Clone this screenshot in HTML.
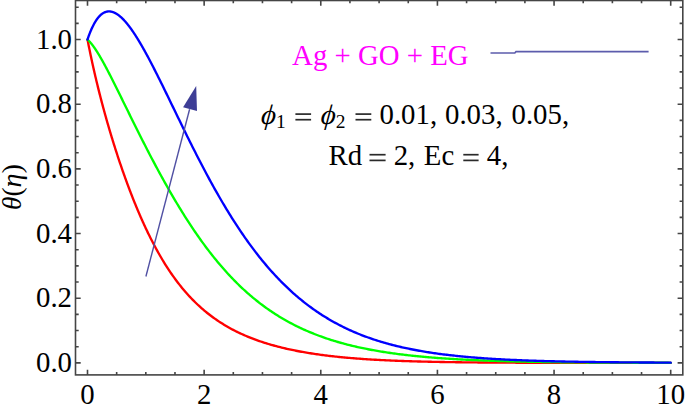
<!DOCTYPE html>
<html><head><meta charset="utf-8"><style>
html,body{margin:0;padding:0;background:#fff;width:685px;height:405px;overflow:hidden}
svg{display:block}
text{font-family:"Liberation Serif",serif;font-size:28.8px;fill:#000}
</style></head><body>
<svg width="685" height="405" viewBox="0 0 685 405">
<g fill="none" stroke-width="2.35" stroke-linejoin="round" stroke-linecap="round">
<path d="M87.50,39.55 L87.75,40.84 L88.00,42.12 L88.25,43.39 L88.50,44.65 L88.75,45.90 L89.00,47.15 L89.25,48.39 L89.50,49.62 L89.75,50.84 L90.00,52.05 L90.25,53.25 L90.50,54.45 L90.75,55.64 L91.00,56.82 L91.25,58.00 L91.50,59.17 L91.75,60.33 L92.00,61.48 L92.25,62.63 L92.50,63.77 L92.75,64.91 L93.00,66.03 L93.25,67.16 L93.50,68.27 L93.75,69.38 L94.00,70.48 L94.25,71.58 L94.50,72.67 L94.75,73.76 L95.00,74.83 L95.25,75.91 L95.50,76.98 L95.75,78.04 L96.00,79.10 L96.25,80.15 L96.50,81.19 L96.75,82.24 L97.00,83.27 L97.25,84.30 L97.50,85.33 L97.75,86.35 L98.00,87.37 L98.25,88.38 L98.50,89.39 L98.75,90.39 L99.00,91.39 L99.25,92.38 L99.50,93.37 L99.75,94.35 L100.00,95.33 L100.25,96.31 L100.50,97.28 L100.75,98.25 L101.00,99.21 L101.25,100.17 L101.50,101.12 L101.75,102.08 L102.00,103.02 L102.25,103.97 L102.50,104.91 L102.75,105.84 L103.00,106.77 L103.25,107.70 L103.50,108.63 L103.75,109.55 L104.00,110.46 L104.25,111.38 L104.50,112.29 L104.75,113.20 L105.00,114.10 L105.25,115.00 L105.50,115.90 L105.75,116.79 L106.00,117.68 L106.25,118.57 L106.50,119.45 L106.75,120.33 L107.00,121.21 L107.25,122.08 L107.50,122.95 L107.75,123.82 L108.00,124.68 L108.25,125.55 L108.50,126.40 L108.75,127.26 L109.00,128.11 L109.25,128.96 L109.50,129.81 L109.75,130.65 L110.00,131.50 L110.25,132.33 L110.50,133.17 L110.75,134.00 L111.00,134.83 L111.25,135.66 L111.50,136.48 L111.75,137.31 L112.00,138.13 L112.25,138.94 L112.50,139.76 L112.75,140.57 L113.00,141.38 L113.25,142.18 L113.50,142.99 L113.75,143.79 L114.00,144.59 L114.25,145.38 L114.50,146.17 L114.75,146.97 L115.00,147.75 L115.25,148.54 L115.50,149.32 L115.75,150.10 L116.00,150.88 L116.25,151.66 L116.50,152.43 L116.75,153.20 L117.00,153.97 L117.25,154.74 L117.50,155.50 L117.75,156.27 L118.00,157.02 L118.25,157.78 L118.50,158.54 L118.75,159.29 L119.00,160.04 L119.25,160.79 L119.50,161.53 L119.75,162.28 L120.00,163.02 L120.25,163.76 L120.50,164.49 L120.75,165.23 L121.00,165.96 L121.25,166.69 L121.50,167.42 L121.75,168.14 L122.00,168.86 L122.25,169.59 L122.50,170.30 L122.75,171.02 L123.00,171.74 L123.25,172.45 L123.50,173.16 L123.75,173.87 L124.00,174.57 L124.25,175.27 L124.50,175.98 L124.75,176.68 L125.00,177.37 L125.25,178.07 L125.50,178.76 L125.75,179.45 L126.00,180.14 L126.25,180.83 L126.50,181.51 L126.75,182.19 L127.00,182.87 L127.25,183.55 L127.50,184.23 L127.75,184.90 L128.00,185.57 L128.25,186.24 L128.50,186.91 L128.75,187.58 L129.00,188.24 L129.25,188.90 L129.50,189.56 L129.75,190.22 L130.00,190.88 L130.25,191.53 L130.50,192.18 L130.75,192.83 L131.00,193.48 L131.25,194.12 L131.50,194.77 L131.75,195.41 L132.00,196.05 L132.25,196.68 L132.50,197.32 L132.75,197.95 L133.00,198.58 L133.25,199.21 L133.50,199.84 L133.75,200.47 L134.00,201.09 L134.25,201.71 L134.50,202.33 L134.75,202.95 L135.00,203.56 L135.25,204.18 L135.50,204.79 L135.75,205.40 L136.00,206.00 L136.25,206.61 L136.50,207.21 L136.75,207.81 L137.00,208.41 L137.25,209.01 L137.50,209.61 L137.75,210.20 L138.00,210.79 L138.25,211.38 L138.50,211.97 L138.75,212.56 L139.00,213.14 L139.25,213.72 L139.50,214.30 L139.75,214.88 L140.00,215.46 L140.25,216.03 L140.50,216.61 L140.75,217.18 L141.00,217.75 L141.25,218.31 L141.50,218.88 L141.75,219.44 L142.00,220.00 L142.25,220.56 L142.50,221.12 L142.75,221.67 L143.00,222.23 L143.25,222.78 L143.50,223.33 L143.75,223.88 L144.00,224.42 L144.25,224.97 L144.50,225.51 L144.75,226.05 L145.00,226.59 L145.25,227.13 L145.50,227.66 L145.75,228.19 L146.00,228.73 L146.25,229.26 L146.50,229.78 L146.75,230.31 L147.00,230.83 L147.25,231.36 L147.50,231.88 L148.00,232.91 L149.31,235.59 L150.62,238.22 L151.93,240.80 L153.24,243.33 L154.55,245.81 L155.86,248.24 L157.17,250.63 L158.48,252.98 L159.79,255.27 L161.10,257.52 L162.41,259.73 L163.72,261.89 L165.03,264.01 L166.34,266.09 L167.65,268.12 L168.96,270.12 L170.27,272.07 L171.58,273.98 L172.89,275.85 L174.20,277.68 L175.51,279.48 L176.82,281.24 L178.13,282.96 L179.44,284.64 L180.75,286.29 L182.06,287.90 L183.37,289.48 L184.68,291.03 L185.99,292.54 L187.30,294.02 L188.61,295.47 L189.92,296.88 L191.23,298.27 L192.54,299.63 L193.85,300.95 L195.16,302.25 L196.47,303.52 L197.78,304.76 L199.09,305.98 L200.40,307.17 L201.71,308.33 L203.02,309.47 L204.33,310.58 L205.64,311.67 L206.95,312.74 L208.26,313.78 L209.57,314.80 L210.88,315.80 L212.19,316.78 L213.50,317.73 L214.81,318.67 L216.12,319.58 L217.43,320.48 L218.74,321.36 L220.05,322.21 L221.36,323.05 L222.67,323.87 L223.98,324.68 L225.29,325.46 L226.60,326.23 L227.91,326.99 L229.22,327.73 L230.53,328.45 L231.84,329.16 L233.15,329.85 L234.46,330.53 L235.77,331.19 L237.08,331.84 L238.39,332.47 L239.70,333.10 L241.01,333.71 L242.32,334.30 L243.63,334.89 L244.94,335.46 L246.25,336.02 L247.56,336.57 L248.87,337.11 L250.18,337.64 L251.49,338.16 L252.80,338.66 L254.11,339.16 L255.42,339.64 L256.73,340.12 L258.04,340.59 L259.35,341.04 L260.66,341.49 L261.97,341.93 L263.28,342.36 L264.59,342.78 L265.90,343.19 L267.21,343.60 L268.52,344.00 L269.83,344.38 L271.14,344.77 L272.45,345.14 L273.76,345.50 L275.07,345.86 L276.38,346.22 L277.69,346.56 L279.00,346.90 L280.31,347.23 L281.62,347.55 L282.93,347.87 L284.24,348.18 L285.55,348.49 L286.86,348.79 L288.17,349.08 L289.48,349.37 L290.79,349.65 L292.10,349.93 L293.41,350.20 L294.72,350.47 L296.03,350.73 L297.34,350.99 L298.65,351.24 L299.96,351.48 L301.27,351.72 L302.58,351.96 L303.89,352.19 L305.20,352.42 L306.51,352.64 L307.82,352.86 L309.13,353.07 L310.44,353.28 L311.75,353.49 L313.06,353.69 L314.37,353.89 L315.68,354.08 L316.99,354.27 L318.30,354.46 L319.61,354.64 L320.92,354.82 L322.23,354.99 L323.54,355.16 L324.85,355.33 L326.16,355.50 L327.47,355.66 L328.78,355.82 L330.09,355.97 L331.40,356.12 L332.71,356.27 L334.02,356.42 L335.33,356.56 L336.64,356.70 L337.95,356.84 L339.26,356.97 L340.57,357.10 L341.88,357.23 L343.19,357.36 L344.50,357.48 L345.81,357.60 L347.12,357.72 L348.43,357.84 L349.74,357.95 L351.05,358.06 L352.36,358.17 L353.67,358.28 L354.98,358.38 L356.29,358.49 L357.60,358.59 L358.91,358.69 L360.22,358.78 L361.53,358.88 L362.84,358.97 L364.15,359.06 L365.46,359.15 L366.77,359.23 L368.08,359.32 L369.39,359.40 L370.70,359.48 L372.01,359.56 L373.32,359.64 L374.63,359.71 L375.94,359.79 L377.25,359.86 L378.56,359.93 L379.87,360.00 L381.18,360.07 L382.49,360.14 L383.80,360.20 L385.11,360.27 L386.42,360.33 L387.73,360.39 L389.04,360.45 L390.35,360.51 L391.66,360.56 L392.97,360.62 L394.28,360.67 L395.59,360.73 L396.90,360.78 L398.21,360.83 L399.52,360.88 L400.83,360.93 L402.14,360.98 L403.45,361.02 L404.76,361.07 L406.07,361.11 L407.38,361.16 L408.69,361.20 L410.01,361.24 L411.32,361.28 L412.63,361.32 L413.94,361.36 L415.25,361.40 L416.56,361.44 L417.87,361.47 L419.18,361.51 L420.49,361.54 L421.80,361.57 L423.11,361.61 L424.42,361.64 L425.73,361.67 L427.04,361.70 L428.35,361.73 L429.66,361.76 L430.97,361.79 L432.28,361.82 L433.59,361.84 L434.90,361.87 L436.21,361.90 L437.52,361.92 L438.83,361.95 L440.14,361.97 L441.45,362.00 L442.76,362.02 L444.07,362.04 L445.38,362.06 L446.69,362.08 L448.00,362.10 L449.31,362.13 L450.62,362.15 L451.93,362.16 L453.24,362.18 L454.55,362.20 L455.86,362.22 L457.17,362.24 L458.48,362.25 L459.79,362.27 L461.10,362.29 L462.41,362.30 L463.72,362.32 L465.03,362.33 L466.34,362.35 L467.65,362.36 L468.96,362.38 L470.27,362.39 L471.58,362.40 L472.89,362.42 L474.20,362.43 L475.51,362.44 L476.82,362.45 L478.13,362.47 L479.44,362.48 L480.75,362.49 L482.06,362.50 L483.37,362.51 L484.68,362.52 L485.99,362.53 L487.30,362.54 L488.61,362.55 L489.92,362.56 L491.23,362.57 L492.54,362.58 L493.85,362.59 L495.16,362.59 L496.47,362.60 L497.78,362.61 L499.09,362.62 L500.40,362.63 L501.71,362.63 L503.02,362.64 L504.33,362.65 L505.64,362.65 L506.95,362.66 L508.26,362.67 L509.57,362.67 L510.88,362.68 L512.19,362.69 L513.50,362.69 L514.81,362.70 L516.12,362.70 L517.43,362.71 L518.74,362.71 L520.05,362.72 L521.36,362.72 L522.67,362.73 L523.98,362.73 L525.29,362.74 L526.60,362.74 L527.91,362.75 L529.22,362.75 L530.53,362.76 L531.84,362.76 L533.15,362.76 L534.46,362.77 L535.77,362.77 L537.08,362.77 L538.39,362.78 L539.70,362.78 L541.01,362.78 L542.32,362.79 L543.63,362.79 L544.94,362.79 L546.25,362.80 L547.56,362.80 L548.87,362.80 L550.18,362.81 L551.49,362.81 L552.80,362.81 L554.11,362.81 L555.42,362.82 L556.73,362.82 L558.04,362.82 L559.35,362.82 L560.66,362.82 L561.97,362.83 L563.28,362.83 L564.59,362.83 L565.90,362.83 L567.21,362.83 L568.52,362.84 L569.83,362.84 L571.14,362.84 L572.45,362.84 L573.76,362.84 L575.07,362.85 L576.38,362.85 L577.69,362.85 L579.00,362.85 L580.31,362.85 L581.62,362.85 L582.93,362.85 L584.24,362.86 L585.55,362.86 L586.86,362.86 L588.17,362.86 L589.48,362.86 L590.79,362.86 L592.10,362.86 L593.41,362.86 L594.72,362.86 L596.03,362.87 L597.34,362.87 L598.65,362.87 L599.96,362.87 L601.27,362.87 L602.58,362.87 L603.89,362.87 L605.20,362.87 L606.51,362.87 L607.82,362.87 L609.13,362.87 L610.44,362.88 L611.75,362.88 L613.06,362.88 L614.37,362.88 L615.68,362.88 L616.99,362.88 L618.30,362.88 L619.61,362.88 L620.92,362.88 L622.23,362.88 L623.54,362.88 L624.85,362.88 L626.16,362.88 L627.47,362.88 L628.78,362.88 L630.09,362.88 L631.40,362.88 L632.71,362.89 L634.02,362.89 L635.33,362.89 L636.64,362.89 L637.95,362.89 L639.26,362.89 L640.57,362.89 L641.88,362.89 L643.19,362.89 L644.50,362.89 L645.81,362.89 L647.12,362.89 L648.43,362.89 L649.74,362.89 L651.05,362.89 L652.36,362.89 L653.67,362.89 L654.98,362.89 L656.29,362.89 L657.60,362.89 L658.91,362.89 L660.22,362.89 L661.53,362.89 L662.84,362.89 L664.15,362.89 L665.46,362.89 L666.77,362.89 L668.08,362.89 L669.39,362.89 L670.70,362.89" stroke="#ff0000"/>
<path d="M87.50,39.55 L87.75,39.78 L88.00,40.01 L88.25,40.25 L88.50,40.49 L88.75,40.74 L89.00,41.00 L89.25,41.26 L89.50,41.53 L89.75,41.80 L90.00,42.08 L90.25,42.36 L90.50,42.65 L90.75,42.94 L91.00,43.24 L91.25,43.55 L91.50,43.86 L91.75,44.17 L92.00,44.49 L92.25,44.81 L92.50,45.14 L92.75,45.47 L93.00,45.80 L93.25,46.14 L93.50,46.49 L93.75,46.83 L94.00,47.18 L94.25,47.54 L94.50,47.90 L94.75,48.26 L95.00,48.63 L95.25,49.00 L95.50,49.37 L95.75,49.75 L96.00,50.13 L96.25,50.51 L96.50,50.90 L96.75,51.29 L97.00,51.68 L97.25,52.08 L97.50,52.48 L97.75,52.88 L98.00,53.28 L98.25,53.69 L98.50,54.10 L98.75,54.52 L99.00,54.93 L99.25,55.35 L99.50,55.77 L99.75,56.19 L100.00,56.62 L100.25,57.04 L100.50,57.47 L100.75,57.91 L101.00,58.34 L101.25,58.78 L101.50,59.22 L101.75,59.66 L102.00,60.10 L102.25,60.54 L102.50,60.99 L102.75,61.44 L103.00,61.89 L103.25,62.34 L103.50,62.79 L103.75,63.25 L104.00,63.71 L104.25,64.17 L104.50,64.63 L104.75,65.09 L105.00,65.55 L105.25,66.02 L105.50,66.48 L105.75,66.95 L106.00,67.42 L106.25,67.89 L106.50,68.36 L106.75,68.83 L107.00,69.31 L107.25,69.78 L107.50,70.26 L107.75,70.74 L108.00,71.22 L108.25,71.70 L108.50,72.18 L108.75,72.66 L109.00,73.14 L109.25,73.63 L109.50,74.11 L109.75,74.60 L110.00,75.09 L110.25,75.57 L110.50,76.06 L110.75,76.55 L111.00,77.04 L111.25,77.53 L111.50,78.03 L111.75,78.52 L112.00,79.01 L112.25,79.51 L112.50,80.00 L112.75,80.50 L113.00,80.99 L113.25,81.49 L113.50,81.99 L113.75,82.48 L114.00,82.98 L114.25,83.48 L114.50,83.98 L114.75,84.48 L115.00,84.98 L115.25,85.48 L115.50,85.98 L115.75,86.49 L116.00,86.99 L116.25,87.49 L116.50,87.99 L116.75,88.50 L117.00,89.00 L117.25,89.51 L117.50,90.01 L117.75,90.51 L118.00,91.02 L118.25,91.52 L118.50,92.03 L118.75,92.54 L119.00,93.04 L119.25,93.55 L119.50,94.06 L119.75,94.56 L120.00,95.07 L120.25,95.58 L120.50,96.08 L120.75,96.59 L121.00,97.10 L121.25,97.61 L121.50,98.12 L121.75,98.62 L122.00,99.13 L122.25,99.64 L122.50,100.15 L122.75,100.66 L123.00,101.16 L123.25,101.67 L123.50,102.18 L123.75,102.69 L124.00,103.20 L124.25,103.71 L124.50,104.22 L124.75,104.73 L125.00,105.23 L125.25,105.74 L125.50,106.25 L125.75,106.76 L126.00,107.27 L126.25,107.78 L126.50,108.29 L126.75,108.79 L127.00,109.30 L127.25,109.81 L127.50,110.32 L127.75,110.83 L128.00,111.33 L128.25,111.84 L128.50,112.35 L128.75,112.86 L129.00,113.36 L129.25,113.87 L129.50,114.38 L129.75,114.89 L130.00,115.39 L130.25,115.90 L130.50,116.41 L130.75,116.91 L131.00,117.42 L131.25,117.92 L131.50,118.43 L131.75,118.94 L132.00,119.44 L132.25,119.95 L132.50,120.45 L132.75,120.96 L133.00,121.46 L133.25,121.96 L133.50,122.47 L133.75,122.97 L134.00,123.48 L134.25,123.98 L134.50,124.48 L134.75,124.98 L135.00,125.49 L135.25,125.99 L135.50,126.49 L135.75,126.99 L136.00,127.49 L136.25,127.99 L136.50,128.50 L136.75,129.00 L137.00,129.50 L137.25,130.00 L137.50,130.50 L137.75,130.99 L138.00,131.49 L138.25,131.99 L138.50,132.49 L138.75,132.99 L139.00,133.49 L139.25,133.98 L139.50,134.48 L139.75,134.98 L140.00,135.47 L140.25,135.97 L140.50,136.46 L140.75,136.96 L141.00,137.45 L141.25,137.95 L141.50,138.44 L141.75,138.94 L142.00,139.43 L142.25,139.92 L142.50,140.41 L142.75,140.91 L143.00,141.40 L143.25,141.89 L143.50,142.38 L143.75,142.87 L144.00,143.36 L144.25,143.85 L144.50,144.34 L144.75,144.83 L145.00,145.32 L145.25,145.81 L145.50,146.29 L145.75,146.78 L146.00,147.27 L146.25,147.75 L146.50,148.24 L146.75,148.73 L147.00,149.21 L147.25,149.69 L147.50,150.18 L148.00,151.15 L149.31,153.67 L150.62,156.18 L151.93,158.68 L153.24,161.17 L154.55,163.64 L155.86,166.09 L157.17,168.54 L158.48,170.96 L159.79,173.38 L161.10,175.77 L162.41,178.16 L163.72,180.52 L165.03,182.87 L166.34,185.20 L167.65,187.52 L168.96,189.82 L170.27,192.10 L171.58,194.37 L172.89,196.61 L174.20,198.84 L175.51,201.06 L176.82,203.25 L178.13,205.42 L179.44,207.58 L180.75,209.72 L182.06,211.84 L183.37,213.94 L184.68,216.02 L185.99,218.09 L187.30,220.13 L188.61,222.15 L189.92,224.16 L191.23,226.14 L192.54,228.11 L193.85,230.06 L195.16,231.98 L196.47,233.89 L197.78,235.78 L199.09,237.64 L200.40,239.49 L201.71,241.32 L203.02,243.12 L204.33,244.91 L205.64,246.68 L206.95,248.43 L208.26,250.15 L209.57,251.86 L210.88,253.55 L212.19,255.22 L213.50,256.86 L214.81,258.49 L216.12,260.10 L217.43,261.69 L218.74,263.26 L220.05,264.81 L221.36,266.34 L222.67,267.85 L223.98,269.35 L225.29,270.82 L226.60,272.27 L227.91,273.71 L229.22,275.12 L230.53,276.52 L231.84,277.90 L233.15,279.26 L234.46,280.60 L235.77,281.93 L237.08,283.23 L238.39,284.52 L239.70,285.79 L241.01,287.05 L242.32,288.28 L243.63,289.50 L244.94,290.70 L246.25,291.88 L247.56,293.05 L248.87,294.20 L250.18,295.33 L251.49,296.45 L252.80,297.55 L254.11,298.64 L255.42,299.70 L256.73,300.76 L258.04,301.79 L259.35,302.82 L260.66,303.82 L261.97,304.81 L263.28,305.79 L264.59,306.75 L265.90,307.70 L267.21,308.63 L268.52,309.55 L269.83,310.45 L271.14,311.34 L272.45,312.22 L273.76,313.08 L275.07,313.93 L276.38,314.77 L277.69,315.59 L279.00,316.40 L280.31,317.20 L281.62,317.99 L282.93,318.76 L284.24,319.52 L285.55,320.27 L286.86,321.00 L288.17,321.73 L289.48,322.44 L290.79,323.14 L292.10,323.83 L293.41,324.51 L294.72,325.18 L296.03,325.84 L297.34,326.48 L298.65,327.12 L299.96,327.75 L301.27,328.36 L302.58,328.97 L303.89,329.56 L305.20,330.15 L306.51,330.72 L307.82,331.29 L309.13,331.85 L310.44,332.40 L311.75,332.93 L313.06,333.46 L314.37,333.99 L315.68,334.50 L316.99,335.00 L318.30,335.50 L319.61,335.98 L320.92,336.46 L322.23,336.93 L323.54,337.40 L324.85,337.85 L326.16,338.30 L327.47,338.74 L328.78,339.17 L330.09,339.60 L331.40,340.02 L332.71,340.43 L334.02,340.83 L335.33,341.23 L336.64,341.62 L337.95,342.00 L339.26,342.38 L340.57,342.75 L341.88,343.12 L343.19,343.48 L344.50,343.83 L345.81,344.17 L347.12,344.52 L348.43,344.85 L349.74,345.18 L351.05,345.50 L352.36,345.82 L353.67,346.13 L354.98,346.44 L356.29,346.74 L357.60,347.03 L358.91,347.33 L360.22,347.61 L361.53,347.89 L362.84,348.17 L364.15,348.44 L365.46,348.71 L366.77,348.97 L368.08,349.23 L369.39,349.48 L370.70,349.73 L372.01,349.97 L373.32,350.21 L374.63,350.45 L375.94,350.68 L377.25,350.91 L378.56,351.13 L379.87,351.35 L381.18,351.57 L382.49,351.78 L383.80,351.99 L385.11,352.19 L386.42,352.39 L387.73,352.59 L389.04,352.78 L390.35,352.97 L391.66,353.16 L392.97,353.34 L394.28,353.52 L395.59,353.70 L396.90,353.87 L398.21,354.05 L399.52,354.21 L400.83,354.38 L402.14,354.54 L403.45,354.70 L404.76,354.86 L406.07,355.01 L407.38,355.16 L408.69,355.31 L410.01,355.45 L411.32,355.60 L412.63,355.74 L413.94,355.87 L415.25,356.01 L416.56,356.14 L417.87,356.27 L419.18,356.40 L420.49,356.52 L421.80,356.65 L423.11,356.77 L424.42,356.89 L425.73,357.00 L427.04,357.12 L428.35,357.23 L429.66,357.34 L430.97,357.45 L432.28,357.56 L433.59,357.66 L434.90,357.76 L436.21,357.86 L437.52,357.96 L438.83,358.06 L440.14,358.15 L441.45,358.25 L442.76,358.34 L444.07,358.43 L445.38,358.52 L446.69,358.60 L448.00,358.69 L449.31,358.77 L450.62,358.85 L451.93,358.93 L453.24,359.01 L454.55,359.09 L455.86,359.17 L457.17,359.24 L458.48,359.31 L459.79,359.38 L461.10,359.46 L462.41,359.52 L463.72,359.59 L465.03,359.66 L466.34,359.72 L467.65,359.79 L468.96,359.85 L470.27,359.91 L471.58,359.97 L472.89,360.03 L474.20,360.09 L475.51,360.15 L476.82,360.20 L478.13,360.26 L479.44,360.31 L480.75,360.36 L482.06,360.42 L483.37,360.47 L484.68,360.52 L485.99,360.56 L487.30,360.61 L488.61,360.66 L489.92,360.71 L491.23,360.75 L492.54,360.79 L493.85,360.84 L495.16,360.88 L496.47,360.92 L497.78,360.96 L499.09,361.00 L500.40,361.04 L501.71,361.08 L503.02,361.12 L504.33,361.16 L505.64,361.19 L506.95,361.23 L508.26,361.26 L509.57,361.30 L510.88,361.33 L512.19,361.36 L513.50,361.40 L514.81,361.43 L516.12,361.46 L517.43,361.49 L518.74,361.52 L520.05,361.55 L521.36,361.58 L522.67,361.60 L523.98,361.63 L525.29,361.66 L526.60,361.68 L527.91,361.71 L529.22,361.74 L530.53,361.76 L531.84,361.78 L533.15,361.81 L534.46,361.83 L535.77,361.85 L537.08,361.88 L538.39,361.90 L539.70,361.92 L541.01,361.94 L542.32,361.96 L543.63,361.98 L544.94,362.00 L546.25,362.02 L547.56,362.04 L548.87,362.06 L550.18,362.08 L551.49,362.09 L552.80,362.11 L554.11,362.13 L555.42,362.15 L556.73,362.16 L558.04,362.18 L559.35,362.19 L560.66,362.21 L561.97,362.22 L563.28,362.24 L564.59,362.25 L565.90,362.27 L567.21,362.28 L568.52,362.29 L569.83,362.31 L571.14,362.32 L572.45,362.33 L573.76,362.35 L575.07,362.36 L576.38,362.37 L577.69,362.38 L579.00,362.39 L580.31,362.40 L581.62,362.42 L582.93,362.43 L584.24,362.44 L585.55,362.45 L586.86,362.46 L588.17,362.47 L589.48,362.48 L590.79,362.49 L592.10,362.50 L593.41,362.50 L594.72,362.51 L596.03,362.52 L597.34,362.53 L598.65,362.54 L599.96,362.55 L601.27,362.55 L602.58,362.56 L603.89,362.57 L605.20,362.58 L606.51,362.59 L607.82,362.59 L609.13,362.60 L610.44,362.61 L611.75,362.61 L613.06,362.62 L614.37,362.63 L615.68,362.63 L616.99,362.64 L618.30,362.64 L619.61,362.65 L620.92,362.66 L622.23,362.66 L623.54,362.67 L624.85,362.67 L626.16,362.68 L627.47,362.68 L628.78,362.69 L630.09,362.69 L631.40,362.70 L632.71,362.70 L634.02,362.71 L635.33,362.71 L636.64,362.71 L637.95,362.72 L639.26,362.72 L640.57,362.73 L641.88,362.73 L643.19,362.74 L644.50,362.74 L645.81,362.74 L647.12,362.75 L648.43,362.75 L649.74,362.75 L651.05,362.76 L652.36,362.76 L653.67,362.76 L654.98,362.77 L656.29,362.77 L657.60,362.77 L658.91,362.78 L660.22,362.78 L661.53,362.78 L662.84,362.78 L664.15,362.79 L665.46,362.79 L666.77,362.79 L668.08,362.79 L669.39,362.80 L670.70,362.80" stroke="#00ff00"/>
<path d="M87.50,39.55 L87.75,38.81 L88.00,38.08 L88.25,37.36 L88.50,36.65 L88.75,35.96 L89.00,35.28 L89.25,34.61 L89.50,33.95 L89.75,33.30 L90.00,32.67 L90.25,32.04 L90.50,31.43 L90.75,30.83 L91.00,30.24 L91.25,29.66 L91.50,29.09 L91.75,28.54 L92.00,27.99 L92.25,27.45 L92.50,26.93 L92.75,26.41 L93.00,25.91 L93.25,25.41 L93.50,24.93 L93.75,24.45 L94.00,23.99 L94.25,23.53 L94.50,23.09 L94.75,22.65 L95.00,22.23 L95.25,21.81 L95.50,21.41 L95.75,21.01 L96.00,20.62 L96.25,20.24 L96.50,19.87 L96.75,19.51 L97.00,19.16 L97.25,18.82 L97.50,18.48 L97.75,18.16 L98.00,17.84 L98.25,17.53 L98.50,17.24 L98.75,16.94 L99.00,16.66 L99.25,16.39 L99.50,16.12 L99.75,15.86 L100.00,15.61 L100.25,15.37 L100.50,15.14 L100.75,14.91 L101.00,14.69 L101.25,14.48 L101.50,14.28 L101.75,14.08 L102.00,13.90 L102.25,13.72 L102.50,13.54 L102.75,13.38 L103.00,13.22 L103.25,13.07 L103.50,12.92 L103.75,12.79 L104.00,12.65 L104.25,12.53 L104.50,12.42 L104.75,12.31 L105.00,12.20 L105.25,12.11 L105.50,12.02 L105.75,11.93 L106.00,11.86 L106.25,11.79 L106.50,11.72 L106.75,11.67 L107.00,11.62 L107.25,11.57 L107.50,11.53 L107.75,11.50 L108.00,11.47 L108.25,11.45 L108.50,11.44 L108.75,11.43 L109.00,11.43 L109.25,11.43 L109.50,11.44 L109.75,11.45 L110.00,11.47 L110.25,11.50 L110.50,11.53 L110.75,11.57 L111.00,11.61 L111.25,11.66 L111.50,11.71 L111.75,11.77 L112.00,11.83 L112.25,11.90 L112.50,11.97 L112.75,12.05 L113.00,12.14 L113.25,12.22 L113.50,12.32 L113.75,12.42 L114.00,12.52 L114.25,12.63 L114.50,12.74 L114.75,12.86 L115.00,12.98 L115.25,13.11 L115.50,13.24 L115.75,13.38 L116.00,13.52 L116.25,13.66 L116.50,13.81 L116.75,13.97 L117.00,14.13 L117.25,14.29 L117.50,14.46 L117.75,14.63 L118.00,14.80 L118.25,14.98 L118.50,15.17 L118.75,15.36 L119.00,15.55 L119.25,15.74 L119.50,15.94 L119.75,16.15 L120.00,16.36 L120.25,16.57 L120.50,16.78 L120.75,17.00 L121.00,17.23 L121.25,17.45 L121.50,17.68 L121.75,17.92 L122.00,18.15 L122.25,18.40 L122.50,18.64 L122.75,18.89 L123.00,19.14 L123.25,19.40 L123.50,19.65 L123.75,19.92 L124.00,20.18 L124.25,20.45 L124.50,20.72 L124.75,21.00 L125.00,21.28 L125.25,21.56 L125.50,21.84 L125.75,22.13 L126.00,22.42 L126.25,22.71 L126.50,23.01 L126.75,23.31 L127.00,23.61 L127.25,23.92 L127.50,24.23 L127.75,24.54 L128.00,24.86 L128.25,25.17 L128.50,25.49 L128.75,25.82 L129.00,26.14 L129.25,26.47 L129.50,26.80 L129.75,27.13 L130.00,27.47 L130.25,27.81 L130.50,28.15 L130.75,28.49 L131.00,28.84 L131.25,29.19 L131.50,29.54 L131.75,29.90 L132.00,30.25 L132.25,30.61 L132.50,30.97 L132.75,31.34 L133.00,31.70 L133.25,32.07 L133.50,32.44 L133.75,32.81 L134.00,33.19 L134.25,33.56 L134.50,33.94 L134.75,34.32 L135.00,34.71 L135.25,35.09 L135.50,35.48 L135.75,35.87 L136.00,36.26 L136.25,36.66 L136.50,37.05 L136.75,37.45 L137.00,37.85 L137.25,38.25 L137.50,38.65 L137.75,39.06 L138.00,39.47 L138.25,39.88 L138.50,40.29 L138.75,40.70 L139.00,41.11 L139.25,41.53 L139.50,41.95 L139.75,42.37 L140.00,42.79 L140.25,43.21 L140.50,43.64 L140.75,44.06 L141.00,44.49 L141.25,44.92 L141.50,45.35 L141.75,45.79 L142.00,46.22 L142.25,46.66 L142.50,47.09 L142.75,47.53 L143.00,47.97 L143.25,48.41 L143.50,48.86 L143.75,49.30 L144.00,49.75 L144.25,50.19 L144.50,50.64 L144.75,51.09 L145.00,51.54 L145.25,52.00 L145.50,52.45 L145.75,52.91 L146.00,53.36 L146.25,53.82 L146.50,54.28 L146.75,54.74 L147.00,55.20 L147.25,55.66 L147.50,56.13 L148.00,57.06 L149.31,59.52 L150.62,62.01 L151.93,64.52 L153.24,67.06 L154.55,69.62 L155.86,72.20 L157.17,74.80 L158.48,77.42 L159.79,80.05 L161.10,82.70 L162.41,85.35 L163.72,88.02 L165.03,90.70 L166.34,93.38 L167.65,96.07 L168.96,98.77 L170.27,101.46 L171.58,104.17 L172.89,106.87 L174.20,109.57 L175.51,112.27 L176.82,114.97 L178.13,117.67 L179.44,120.36 L180.75,123.05 L182.06,125.74 L183.37,128.41 L184.68,131.08 L185.99,133.74 L187.30,136.40 L188.61,139.04 L189.92,141.67 L191.23,144.30 L192.54,146.91 L193.85,149.51 L195.16,152.09 L196.47,154.67 L197.78,157.22 L199.09,159.77 L200.40,162.30 L201.71,164.82 L203.02,167.32 L204.33,169.80 L205.64,172.27 L206.95,174.72 L208.26,177.16 L209.57,179.58 L210.88,181.98 L212.19,184.36 L213.50,186.72 L214.81,189.07 L216.12,191.39 L217.43,193.70 L218.74,195.99 L220.05,198.26 L221.36,200.51 L222.67,202.74 L223.98,204.95 L225.29,207.14 L226.60,209.31 L227.91,211.46 L229.22,213.59 L230.53,215.70 L231.84,217.79 L233.15,219.86 L234.46,221.91 L235.77,223.94 L237.08,225.94 L238.39,227.93 L239.70,229.89 L241.01,231.84 L242.32,233.76 L243.63,235.67 L244.94,237.55 L246.25,239.41 L247.56,241.25 L248.87,243.07 L250.18,244.87 L251.49,246.65 L252.80,248.41 L254.11,250.15 L255.42,251.86 L256.73,253.56 L258.04,255.24 L259.35,256.90 L260.66,258.53 L261.97,260.15 L263.28,261.75 L264.59,263.32 L265.90,264.88 L267.21,266.42 L268.52,267.94 L269.83,269.44 L271.14,270.92 L272.45,272.38 L273.76,273.82 L275.07,275.24 L276.38,276.64 L277.69,278.03 L279.00,279.40 L280.31,280.75 L281.62,282.08 L282.93,283.39 L284.24,284.68 L285.55,285.96 L286.86,287.22 L288.17,288.46 L289.48,289.68 L290.79,290.89 L292.10,292.08 L293.41,293.26 L294.72,294.41 L296.03,295.55 L297.34,296.68 L298.65,297.78 L299.96,298.88 L301.27,299.95 L302.58,301.01 L303.89,302.06 L305.20,303.09 L306.51,304.10 L307.82,305.10 L309.13,306.08 L310.44,307.05 L311.75,308.01 L313.06,308.95 L314.37,309.87 L315.68,310.78 L316.99,311.68 L318.30,312.57 L319.61,313.44 L320.92,314.29 L322.23,315.14 L323.54,315.97 L324.85,316.79 L326.16,317.59 L327.47,318.38 L328.78,319.16 L330.09,319.93 L331.40,320.69 L332.71,321.43 L334.02,322.16 L335.33,322.88 L336.64,323.59 L337.95,324.29 L339.26,324.97 L340.57,325.65 L341.88,326.31 L343.19,326.96 L344.50,327.60 L345.81,328.24 L347.12,328.86 L348.43,329.47 L349.74,330.07 L351.05,330.66 L352.36,331.24 L353.67,331.81 L354.98,332.37 L356.29,332.93 L357.60,333.47 L358.91,334.00 L360.22,334.53 L361.53,335.04 L362.84,335.55 L364.15,336.05 L365.46,336.54 L366.77,337.02 L368.08,337.50 L369.39,337.96 L370.70,338.42 L372.01,338.87 L373.32,339.31 L374.63,339.75 L375.94,340.17 L377.25,340.59 L378.56,341.00 L379.87,341.41 L381.18,341.81 L382.49,342.20 L383.80,342.58 L385.11,342.96 L386.42,343.33 L387.73,343.69 L389.04,344.05 L390.35,344.40 L391.66,344.75 L392.97,345.09 L394.28,345.42 L395.59,345.75 L396.90,346.07 L398.21,346.39 L399.52,346.70 L400.83,347.00 L402.14,347.30 L403.45,347.59 L404.76,347.88 L406.07,348.16 L407.38,348.44 L408.69,348.72 L410.01,348.98 L411.32,349.25 L412.63,349.51 L413.94,349.76 L415.25,350.01 L416.56,350.25 L417.87,350.49 L419.18,350.73 L420.49,350.96 L421.80,351.19 L423.11,351.41 L424.42,351.63 L425.73,351.84 L427.04,352.06 L428.35,352.26 L429.66,352.47 L430.97,352.66 L432.28,352.86 L433.59,353.05 L434.90,353.24 L436.21,353.43 L437.52,353.61 L438.83,353.79 L440.14,353.96 L441.45,354.13 L442.76,354.30 L444.07,354.47 L445.38,354.63 L446.69,354.79 L448.00,354.94 L449.31,355.10 L450.62,355.25 L451.93,355.40 L453.24,355.54 L454.55,355.68 L455.86,355.82 L457.17,355.96 L458.48,356.09 L459.79,356.22 L461.10,356.35 L462.41,356.48 L463.72,356.61 L465.03,356.73 L466.34,356.85 L467.65,356.96 L468.96,357.08 L470.27,357.19 L471.58,357.30 L472.89,357.41 L474.20,357.52 L475.51,357.62 L476.82,357.73 L478.13,357.83 L479.44,357.92 L480.75,358.02 L482.06,358.12 L483.37,358.21 L484.68,358.30 L485.99,358.39 L487.30,358.48 L488.61,358.56 L489.92,358.65 L491.23,358.73 L492.54,358.81 L493.85,358.89 L495.16,358.97 L496.47,359.05 L497.78,359.12 L499.09,359.20 L500.40,359.27 L501.71,359.34 L503.02,359.41 L504.33,359.48 L505.64,359.55 L506.95,359.61 L508.26,359.68 L509.57,359.74 L510.88,359.80 L512.19,359.86 L513.50,359.92 L514.81,359.98 L516.12,360.04 L517.43,360.09 L518.74,360.15 L520.05,360.20 L521.36,360.25 L522.67,360.31 L523.98,360.36 L525.29,360.41 L526.60,360.46 L527.91,360.50 L529.22,360.55 L530.53,360.60 L531.84,360.64 L533.15,360.69 L534.46,360.73 L535.77,360.77 L537.08,360.81 L538.39,360.86 L539.70,360.90 L541.01,360.94 L542.32,360.97 L543.63,361.01 L544.94,361.05 L546.25,361.08 L547.56,361.12 L548.87,361.16 L550.18,361.19 L551.49,361.22 L552.80,361.26 L554.11,361.29 L555.42,361.32 L556.73,361.35 L558.04,361.38 L559.35,361.41 L560.66,361.44 L561.97,361.47 L563.28,361.50 L564.59,361.53 L565.90,361.55 L567.21,361.58 L568.52,361.61 L569.83,361.63 L571.14,361.66 L572.45,361.68 L573.76,361.70 L575.07,361.73 L576.38,361.75 L577.69,361.77 L579.00,361.80 L580.31,361.82 L581.62,361.84 L582.93,361.86 L584.24,361.88 L585.55,361.90 L586.86,361.92 L588.17,361.94 L589.48,361.96 L590.79,361.98 L592.10,361.99 L593.41,362.01 L594.72,362.03 L596.03,362.05 L597.34,362.06 L598.65,362.08 L599.96,362.10 L601.27,362.11 L602.58,362.13 L603.89,362.14 L605.20,362.16 L606.51,362.17 L607.82,362.19 L609.13,362.20 L610.44,362.21 L611.75,362.23 L613.06,362.24 L614.37,362.25 L615.68,362.27 L616.99,362.28 L618.30,362.29 L619.61,362.30 L620.92,362.32 L622.23,362.33 L623.54,362.34 L624.85,362.35 L626.16,362.36 L627.47,362.37 L628.78,362.38 L630.09,362.39 L631.40,362.40 L632.71,362.41 L634.02,362.42 L635.33,362.43 L636.64,362.44 L637.95,362.45 L639.26,362.46 L640.57,362.47 L641.88,362.47 L643.19,362.48 L644.50,362.49 L645.81,362.50 L647.12,362.51 L648.43,362.51 L649.74,362.52 L651.05,362.53 L652.36,362.54 L653.67,362.54 L654.98,362.55 L656.29,362.56 L657.60,362.56 L658.91,362.57 L660.22,362.58 L661.53,362.58 L662.84,362.59 L664.15,362.60 L665.46,362.60 L666.77,362.61 L668.08,362.61 L669.39,362.62 L670.70,362.63" stroke="#0000ff"/>
</g>
<g stroke="#454545" stroke-width="1.6" fill="none">
<rect x="75.5" y="0.5" width="607.30" height="374.40"/>
<path d="M87.50,374.9 v-5.2 M87.50,0.5 v5.2 M116.66,374.9 v-2.8 M116.66,0.5 v2.8 M145.82,374.9 v-2.8 M145.82,0.5 v2.8 M174.98,374.9 v-2.8 M174.98,0.5 v2.8 M204.14,374.9 v-5.2 M204.14,0.5 v5.2 M233.30,374.9 v-2.8 M233.30,0.5 v2.8 M262.46,374.9 v-2.8 M262.46,0.5 v2.8 M291.62,374.9 v-2.8 M291.62,0.5 v2.8 M320.78,374.9 v-5.2 M320.78,0.5 v5.2 M349.94,374.9 v-2.8 M349.94,0.5 v2.8 M379.10,374.9 v-2.8 M379.10,0.5 v2.8 M408.26,374.9 v-2.8 M408.26,0.5 v2.8 M437.42,374.9 v-5.2 M437.42,0.5 v5.2 M466.58,374.9 v-2.8 M466.58,0.5 v2.8 M495.74,374.9 v-2.8 M495.74,0.5 v2.8 M524.90,374.9 v-2.8 M524.90,0.5 v2.8 M554.06,374.9 v-5.2 M554.06,0.5 v5.2 M583.22,374.9 v-2.8 M583.22,0.5 v2.8 M612.38,374.9 v-2.8 M612.38,0.5 v2.8 M641.54,374.9 v-2.8 M641.54,0.5 v2.8 M670.70,374.9 v-5.2 M670.70,0.5 v5.2 M75.5,362.90 h5.2 M682.8,362.90 h-5.2 M75.5,346.73 h3.2 M682.8,346.73 h-3.2 M75.5,330.56 h3.2 M682.8,330.56 h-3.2 M75.5,314.40 h3.2 M682.8,314.40 h-3.2 M75.5,298.23 h5.2 M682.8,298.23 h-5.2 M75.5,282.06 h3.2 M682.8,282.06 h-3.2 M75.5,265.89 h3.2 M682.8,265.89 h-3.2 M75.5,249.73 h3.2 M682.8,249.73 h-3.2 M75.5,233.56 h5.2 M682.8,233.56 h-5.2 M75.5,217.39 h3.2 M682.8,217.39 h-3.2 M75.5,201.22 h3.2 M682.8,201.22 h-3.2 M75.5,185.06 h3.2 M682.8,185.06 h-3.2 M75.5,168.89 h5.2 M682.8,168.89 h-5.2 M75.5,152.72 h3.2 M682.8,152.72 h-3.2 M75.5,136.55 h3.2 M682.8,136.55 h-3.2 M75.5,120.39 h3.2 M682.8,120.39 h-3.2 M75.5,104.22 h5.2 M682.8,104.22 h-5.2 M75.5,88.05 h3.2 M682.8,88.05 h-3.2 M75.5,71.88 h3.2 M682.8,71.88 h-3.2 M75.5,55.72 h3.2 M682.8,55.72 h-3.2 M75.5,39.55 h5.2 M682.8,39.55 h-5.2 M75.5,23.38 h3.2 M682.8,23.38 h-3.2 M75.5,7.21 h3.2 M682.8,7.21 h-3.2"/>
</g>
<g><text x="72.0" y="372.00" text-anchor="end">0.0</text><text x="72.0" y="307.33" text-anchor="end">0.2</text><text x="72.0" y="242.66" text-anchor="end">0.4</text><text x="72.0" y="177.99" text-anchor="end">0.6</text><text x="72.0" y="113.32" text-anchor="end">0.8</text><text x="72.0" y="48.65" text-anchor="end">1.0</text><text x="87.50" y="403.5" text-anchor="middle">0</text><text x="204.14" y="403.5" text-anchor="middle">2</text><text x="320.78" y="403.5" text-anchor="middle">4</text><text x="437.42" y="403.5" text-anchor="middle">6</text><text x="554.06" y="403.5" text-anchor="middle">8</text><text x="670.70" y="403.5" text-anchor="middle">10</text></g>
<text transform="translate(20.8,187.1) rotate(-90)" text-anchor="middle" style="font-size:27.3px"><tspan style="font-style:italic">&#x3B8;</tspan>(<tspan style="font-style:italic;font-size:28.3px">&#x3B7;</tspan>)</text>
<text x="292.1" y="65.2" style="fill:#ff00ff">Ag + GO + EG</text>
<path d="M490.5,53.0 H514.8 L516,51.7 H648.6" stroke="rgb(92,92,172)" stroke-width="1.7" fill="none"/>
<g fill="#111"><text transform="translate(260.40,124.40) skewX(-5) scale(1.0,0.98)" style="font-style:italic">&#x3D5;</text><text x="275.9" y="128.00" style="font-size:19.5px">1</text><rect x="295.4" y="113.25" width="15.70" height="1.7" fill="#2a2a2a"/><rect x="295.4" y="118.85" width="15.70" height="1.7" fill="#2a2a2a"/><text transform="translate(320.30,124.40) skewX(-5) scale(1.0,0.98)" style="font-style:italic">&#x3D5;</text><text x="335.8" y="128.30" style="font-size:19.5px">2</text><rect x="355.5" y="113.25" width="15.80" height="1.7" fill="#2a2a2a"/><rect x="355.5" y="118.85" width="15.80" height="1.7" fill="#2a2a2a"/><text x="379.50" y="124.4">0.01,</text><text x="445.00" y="124.4">0.03,</text><text x="511.50" y="124.4">0.05,</text><text x="328.60" y="164.5">Rd</text><rect x="369.5" y="153.85" width="16.10" height="1.7" fill="#2a2a2a"/><rect x="369.5" y="159.55" width="16.10" height="1.7" fill="#2a2a2a"/><text x="393.70" y="164.5">2,</text><text x="423.80" y="164.5">Ec</text><rect x="463.3" y="153.85" width="15.30" height="1.7" fill="#2a2a2a"/><rect x="463.3" y="159.55" width="15.30" height="1.7" fill="#2a2a2a"/><text x="486.80" y="164.5">4,</text></g>
<path d="M145.9,276.5 L189.6,109.2" stroke="rgb(80,80,163)" stroke-width="1.4" fill="none"/>
<path d="M196.2,86.1 L183.1,107.2 L197,111.1 Z" fill="rgb(62,62,150)"/>
</svg>
</body></html>
